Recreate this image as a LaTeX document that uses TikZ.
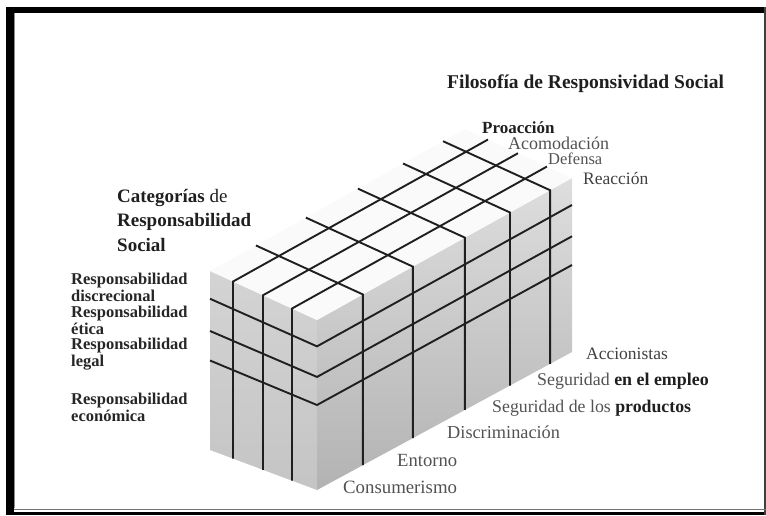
\documentclass[tikz,border=0pt]{standalone}
\usepackage{fontspec}
\setmainfont{Liberation Serif}
\usetikzlibrary{calc}

\begin{document}
\begin{tikzpicture}[x=1pt,y=-1pt,
  grid/.style = {draw=black!88, line width=1.9pt},
  head/.style = {anchor=west, align=left, inner sep=0pt, text=black!88, font=\bfseries},
  cat/.style = {anchor=west, align=left, inner sep=0pt, text=black!85, font=\fontsize{16.5}{17}\selectfont\bfseries},
  lab/.style = {anchor=west, inner sep=0pt, text=black!68}]
\useasboundingbox (0,0) rectangle (766,515);

% marco
\fill[black] (6,7) rectangle (14,515);
\fill[black] (6,7) rectangle (766,13);
\fill[black] (13,512) rectangle (766,515);
\fill[black!75] (764,7) rectangle (766,515);
\draw[black!55, line width=1.5pt] (14,509.5) -- (766,509.5);
\draw[black!45, line width=0.8pt] (14.4,13) -- (14.4,508);

% esquinas del bloque
\coordinate (lt) at (210,271);
\coordinate (lb) at (210,450);
\coordinate (ft) at (317,320);
\coordinate (fb) at (317,490);
\coordinate (rt) at (572,178);
\coordinate (rb) at (572,352);
\coordinate (bt) at (465,129);

% caras
\shade[top color=black!17, bottom color=black!23] (lt) -- (ft) -- (fb) -- (lb) -- cycle;
\shade[top color=black!13, bottom color=black!30] (ft) -- (rt) -- (rb) -- (fb) -- cycle;
\fill[black!2] (lt) -- (ft) -- (rt) -- (bt) -- cycle;

% categorias
\foreach \f in {0.155,0.335,0.5}
  \draw[grid] ($(lt)!\f!(lb)$) -- ($(ft)!\f!(fb)$) -- ($(rt)!\f!(rb)$);
% filosofia
\foreach \f in {0.215,0.495,0.766}
  \draw[grid] ($(lb)!\f!(fb)$) -- ($(lt)!\f!(ft)$) -- ($(bt)!\f!(rt)$);
% asuntos sociales
\foreach \f in {0.18,0.376,0.58,0.757,0.914}
  \draw[grid] ($(fb)!\f!(rb)$) -- ($(ft)!\f!(rt)$) -- ($(lt)!\f!(bt)$);

\node[head, font=\fontsize{19.5}{20}\selectfont\bfseries] (titulo) at (447,84) {Filosofía de Responsividad Social};
\node[head, font=\fontsize{17}{18}\selectfont\bfseries] (proac) at (482,128) {Proacción};
\node[lab, font=\fontsize{18}{18}\selectfont] (acomo) at (508,143) {Acomodación};
\node[lab, font=\fontsize{16.5}{17}\selectfont] (defen) at (548,159) {Defensa};
\node[lab, text=black!75, font=\fontsize{17.5}{18}\selectfont] (reacc) at (583,178) {Reacción};

\node[head, font=\fontsize{19}{24.5}\selectfont\bfseries] (cats) at (117,220) {Categorías \textmd{de}\\Responsabilidad\\Social};
\node[cat] (discr) at (71,287) {Responsabilidad\\discrecional};
\node[cat] (etica) at (71,320) {Responsabilidad\\ética};
\node[cat] (legal) at (71,354) {Responsabilidad\\legal};
\node[cat] (econ) at (71,407) {Responsabilidad\\económica};

\node[lab, text=black!75, font=\fontsize{17.5}{18}\selectfont] (accio) at (586,354) {Accionistas};
\node[lab, font=\fontsize{17.9}{18}\selectfont] (empleo) at (537,381) {Seguridad \textcolor{black!88}{\bfseries en el empleo}};
\node[lab, font=\fontsize{17.8}{18}\selectfont] (produc) at (492,408) {Seguridad de los \textcolor{black!88}{\bfseries productos}};
\node[lab, font=\fontsize{18.3}{18}\selectfont] (discrim) at (447,432) {Discriminación};
\node[lab, font=\fontsize{18.6}{18}\selectfont] (entor) at (397,460) {Entorno};
\node[lab, font=\fontsize{18.8}{18}\selectfont] (consum) at (343,487) {Consumerismo};
\end{tikzpicture}
\end{document}
